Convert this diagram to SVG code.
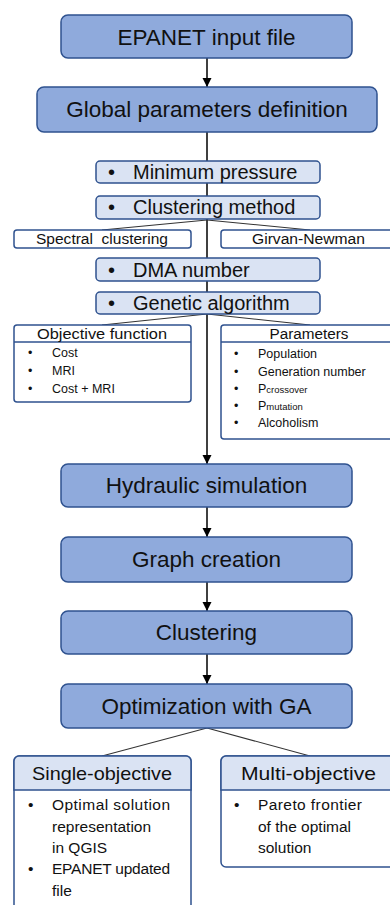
<svg xmlns="http://www.w3.org/2000/svg" width="390" height="905" viewBox="0 0 390 905">
<style>
text{font-family:"Liberation Sans",Arial,sans-serif;fill:#111}
.main{fill:#8faadc;stroke:#2f528f;stroke-width:1.5}
.sub{fill:#dae3f3;stroke:#2f528f;stroke-width:1.5}
.wb{fill:#fff;stroke:#2f528f;stroke-width:1.5}
.mt{font-size:22.5px;text-anchor:middle}
.st{font-size:20px}
.bt{font-size:12.5px}
.lt{font-size:15.5px}
.c{text-anchor:middle}
.arr{stroke:#000;stroke-width:1.5;fill:none;marker-end:url(#ah)}
.br{stroke:#333;stroke-width:1.1;fill:none}
</style>
<defs>
<marker id="ah" markerUnits="userSpaceOnUse" markerWidth="10" markerHeight="10" refX="9" refY="4.5" orient="auto">
<path d="M0,0 L9,4.5 L0,9 z" fill="#000"/>
</marker>
</defs>
<g id="connectors">
<line class="arr" x1="207" y1="58" x2="207" y2="87"/>
<line class="arr" x1="207" y1="132" x2="207" y2="464"/>
<line class="br" x1="207" y1="220" x2="102" y2="230"/>
<line class="br" x1="207" y1="220" x2="310" y2="230"/>
<line class="br" x1="207" y1="314" x2="102" y2="325"/>
<line class="br" x1="207" y1="314" x2="310" y2="325"/>
<line class="arr" x1="207" y1="507" x2="207" y2="537"/>
<line class="arr" x1="207" y1="582" x2="207" y2="611"/>
<line class="arr" x1="207" y1="654" x2="207" y2="684"/>
<line class="br" x1="207" y1="728" x2="102" y2="756"/>
<line class="br" x1="207" y1="728" x2="310" y2="756"/>
</g>
<g id="epanet-input">
<rect class="main" x="61" y="15" width="291" height="43" rx="7"/>
<text class="mt" x="206.5" y="44.5">EPANET input file</text>
</g>
<g id="global-params">
<rect class="main" x="37" y="87" width="340" height="45" rx="7"/>
<text class="mt" x="207" y="117">Global parameters definition</text>
</g>
<g id="min-pressure">
<rect class="sub" x="96" y="161" width="224" height="22" rx="4"/>
<text class="st" x="108" y="178.5">•</text>
<text class="st" x="133" y="178.5">Minimum pressure</text>
</g>
<g id="clustering-method">
<rect class="sub" x="96" y="196" width="224" height="23" rx="4"/>
<text class="st" x="108" y="213.5">•</text>
<text class="st" x="133" y="213.5">Clustering method</text>
</g>
<g id="spectral">
<rect class="wb" x="14" y="230" width="177" height="18" rx="3"/>
<text class="c" x="102" y="244" font-size="14" textLength="132" lengthAdjust="spacingAndGlyphs" xml:space="preserve">Spectral  clustering</text>
</g>
<g id="girvan">
<rect class="wb" x="221" y="230" width="175" height="18" rx="3"/>
<text class="c" x="308.5" y="244" font-size="14" textLength="113" lengthAdjust="spacingAndGlyphs">Girvan-Newman</text>
</g>
<g id="dma-number">
<rect class="sub" x="96" y="258" width="224" height="23" rx="4"/>
<text class="st" x="108" y="276.5">•</text>
<text class="st" x="133" y="276.5">DMA number</text>
</g>
<g id="genetic-algorithm">
<rect class="sub" x="96" y="292" width="224" height="22" rx="4"/>
<text class="st" x="108" y="309.5">•</text>
<text class="st" x="133" y="309.5">Genetic algorithm</text>
</g>
<g id="objective-function">
<rect class="wb" x="14" y="325" width="177" height="77" rx="3"/>
<line x1="14" y1="342" x2="191" y2="342" stroke="#2f528f" stroke-width="1.5"/>
<text class="c" x="102" y="338.5" font-size="15.5" textLength="130" lengthAdjust="spacingAndGlyphs">Objective function</text>
<text class="bt" x="28" y="357">•</text><text class="bt" x="52" y="357">Cost</text>
<text class="bt" x="28" y="375">•</text><text class="bt" x="52" y="375">MRI</text>
<text class="bt" x="28" y="393">•</text><text class="bt" x="52" y="393">Cost + MRI</text>
</g>
<g id="parameters">
<rect class="wb" x="221" y="325" width="175" height="114" rx="3"/>
<line x1="221" y1="342" x2="396" y2="342" stroke="#2f528f" stroke-width="1.5"/>
<text class="c" x="309" y="338.5" font-size="15.5" textLength="79" lengthAdjust="spacingAndGlyphs">Parameters</text>
<text class="bt" x="234" y="358">•</text><text class="bt" x="258" y="358">Population</text>
<text class="bt" x="234" y="376">•</text><text class="bt" x="258" y="376">Generation number</text>
<text class="bt" x="234" y="393">•</text><text class="bt" x="258" y="393">P<tspan font-size="9.5">crossover</tspan></text>
<text class="bt" x="234" y="410">•</text><text class="bt" x="258" y="410">P<tspan font-size="9.5">mutation</tspan></text>
<text class="bt" x="234" y="427">•</text><text class="bt" x="258" y="427">Alcoholism</text>
</g>
<g id="hydraulic-simulation">
<rect class="main" x="61" y="464" width="291" height="43" rx="7"/>
<text class="mt" x="206.5" y="493">Hydraulic simulation</text>
</g>
<g id="graph-creation">
<rect class="main" x="61" y="537" width="291" height="45" rx="7"/>
<text class="mt" x="206.5" y="567">Graph creation</text>
</g>
<g id="clustering">
<rect class="main" x="61" y="611" width="291" height="43" rx="7"/>
<text class="mt" x="206.5" y="640">Clustering</text>
</g>
<g id="optimization-ga">
<rect class="main" x="61" y="684" width="291" height="44" rx="7"/>
<text class="mt" x="206.5" y="713.5">Optimization with GA</text>
</g>
<g id="single-objective">
<rect class="wb" x="14" y="756" width="177" height="160" rx="5"/>
<path d="M14,790 V761 a5,5 0 0 1 5,-5 H186 a5,5 0 0 1 5,5 V790 Z" class="sub"/>
<text class="c" x="102" y="780" font-size="18.5" textLength="140" lengthAdjust="spacingAndGlyphs">Single-objective</text>
<text class="lt" x="28" y="810">•</text><text class="lt" x="52" y="810" textLength="118" lengthAdjust="spacing">Optimal solution</text>
<text class="lt" x="52" y="832">representation</text>
<text class="lt" x="52" y="853">in QGIS</text>
<text class="lt" x="28" y="874">•</text><text class="lt" x="52" y="874" textLength="118" lengthAdjust="spacing">EPANET updated</text>
<text class="lt" x="52" y="896">file</text>
</g>
<g id="multi-objective">
<rect class="wb" x="221" y="756" width="175" height="111" rx="5"/>
<path d="M221,790 V761 a5,5 0 0 1 5,-5 H396 V790 Z" class="sub"/>
<text class="c" x="308.5" y="780" font-size="19" textLength="135" lengthAdjust="spacingAndGlyphs">Multi-objective</text>
<text class="lt" x="234" y="810">•</text><text class="lt" x="258" y="810" textLength="104" lengthAdjust="spacing">Pareto frontier</text>
<text class="lt" x="258" y="832">of the optimal</text>
<text class="lt" x="258" y="853">solution</text>
</g>
</svg>
